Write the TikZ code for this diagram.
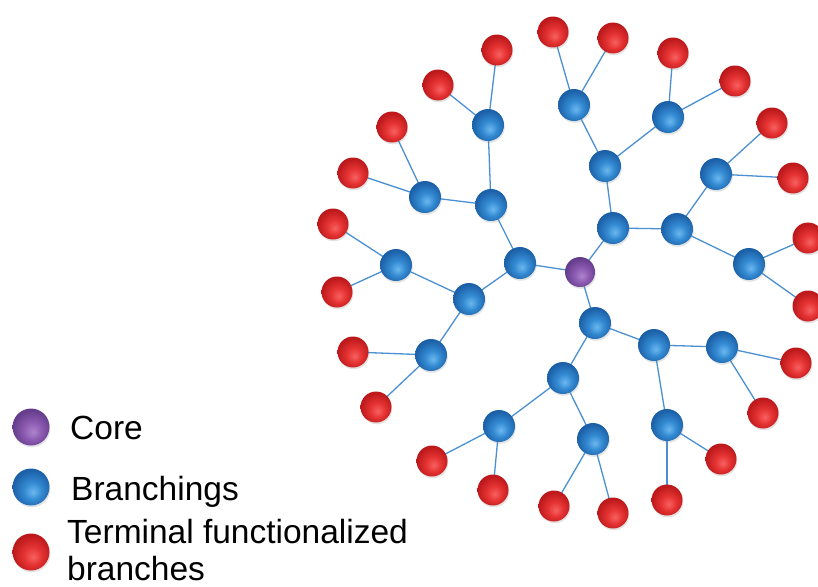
\documentclass[tikz,border=0pt]{standalone}
\usepackage{fontspec}
\setmainfont{Liberation Sans}
\usetikzlibrary{shadows}
\definecolor{edgeblue}{HTML}{4A90D2}
\pgfdeclareradialshading{redball}{\pgfpoint{3bp}{-7bp}}{%
  rgb(0bp)=(0.97,0.38,0.38); rgb(12bp)=(0.90,0.20,0.20); rgb(26bp)=(0.74,0.10,0.11); rgb(50bp)=(0.74,0.10,0.11)}
\pgfdeclareradialshading{blueball}{\pgfpoint{3bp}{-7bp}}{%
  rgb(0bp)=(0.42,0.72,0.94); rgb(12bp)=(0.20,0.54,0.82); rgb(26bp)=(0.11,0.38,0.66); rgb(50bp)=(0.11,0.38,0.66)}
\pgfdeclareradialshading{purpleball}{\pgfpoint{3bp}{-7bp}}{%
  rgb(0bp)=(0.68,0.52,0.80); rgb(12bp)=(0.55,0.36,0.70); rgb(26bp)=(0.40,0.24,0.55); rgb(50bp)=(0.40,0.24,0.55)}
\tikzset{
  ballbase/.style={circle, inner sep=0pt, draw=none,
    drop shadow={opacity=0.22, shadow xshift=0.8pt, shadow yshift=-1.8pt}},
  rnode/.style={ballbase, minimum size=31pt, shading=redball},
  bnode/.style={ballbase, minimum size=32pt, shading=blueball},
  pnode/.style={ballbase, minimum size=30pt, shading=purpleball},
  conn/.style={draw=edgeblue, line width=1.3pt},
  legtext/.style={anchor=base west, inner sep=0pt, font=\fontsize{33.5}{37}\selectfont, align=left}
}
\begin{document}
\begin{tikzpicture}[x=1pt,y=-1pt]
\useasboundingbox (0,0) rectangle (818,586);
% core
\coordinate (c) at (580,272);
% blue branchings
\coordinate (b1) at (520,263);
\coordinate (b2) at (491,205);
\coordinate (b3) at (488,125);
\coordinate (b4) at (425,197);
\coordinate (b5) at (469,299);
\coordinate (b6) at (396,265);
\coordinate (b7) at (431,355);
\coordinate (b8) at (613,228);
\coordinate (b9) at (605,166);
\coordinate (b10) at (574,105);
\coordinate (b11) at (668,117);
\coordinate (b12) at (677,229);
\coordinate (b13) at (716,174);
\coordinate (b14) at (749,264);
\coordinate (b15) at (595,323);
\coordinate (b16) at (563,378);
\coordinate (b17) at (499,426);
\coordinate (b18) at (593,439);
\coordinate (b19) at (654,345);
\coordinate (b20) at (722,347);
\coordinate (b21) at (667,425);
% red terminals
\coordinate (r1) at (497,50);
\coordinate (r2) at (438,85);
\coordinate (r3) at (392,127);
\coordinate (r4) at (353,173);
\coordinate (r5) at (333,224);
\coordinate (r6) at (337,292);
\coordinate (r7) at (353,352);
\coordinate (r8) at (376,407);
\coordinate (r9) at (432,461);
\coordinate (r10) at (493,490);
\coordinate (r11) at (554,506);
\coordinate (r12) at (613,513);
\coordinate (r13) at (667,500);
\coordinate (r14) at (721,459);
\coordinate (r15) at (763,413);
\coordinate (r16) at (796,363);
\coordinate (r17) at (808,306);
\coordinate (r18) at (808,238);
\coordinate (r19) at (793,178);
\coordinate (r20) at (772,123);
\coordinate (r21) at (735,81);
\coordinate (r22) at (673,53);
\coordinate (r23) at (613,38);
\coordinate (r24) at (553,32);
% connectors
\foreach \a/\b in {c/b1,b1/b2,b2/b3,b2/b4,b1/b5,b5/b6,b5/b7,
  c/b8,b8/b9,b9/b10,b9/b11,b8/b12,b12/b13,b12/b14,
  c/b15,b15/b16,b16/b17,b16/b18,b15/b19,b19/b20,b19/b21,
  b3/r1,b3/r2,b4/r3,b4/r4,b6/r5,b6/r6,b7/r7,b7/r8,
  b17/r9,b17/r10,b18/r11,b18/r12,b21/r13,b21/r14,b20/r15,b20/r16,
  b14/r17,b14/r18,b13/r19,b13/r20,b11/r21,b11/r22,b10/r23,b10/r24}
  \draw[conn] (\a) -- (\b);
% balls
\foreach \i in {1,...,24} \node[rnode] (R\i) at (r\i) {};
\foreach \i in {1,...,21} \node[bnode] (B\i) at (b\i) {};
\node[pnode] (C) at (c) {};
% legend
\node[pnode, minimum size=37pt] (lc) at (31,427) {};
\node[bnode, minimum size=37pt] (lb) at (31,487) {};
\node[rnode, minimum size=37pt] (lr) at (31,552) {};
\node[legtext] (tc) at (70,439) {Core};
\node[legtext] (tb) at (71,500) {Branchings};
\node[legtext] (tr) at (67,580) {Terminal functionalized\\branches};
\end{tikzpicture}
\end{document}
